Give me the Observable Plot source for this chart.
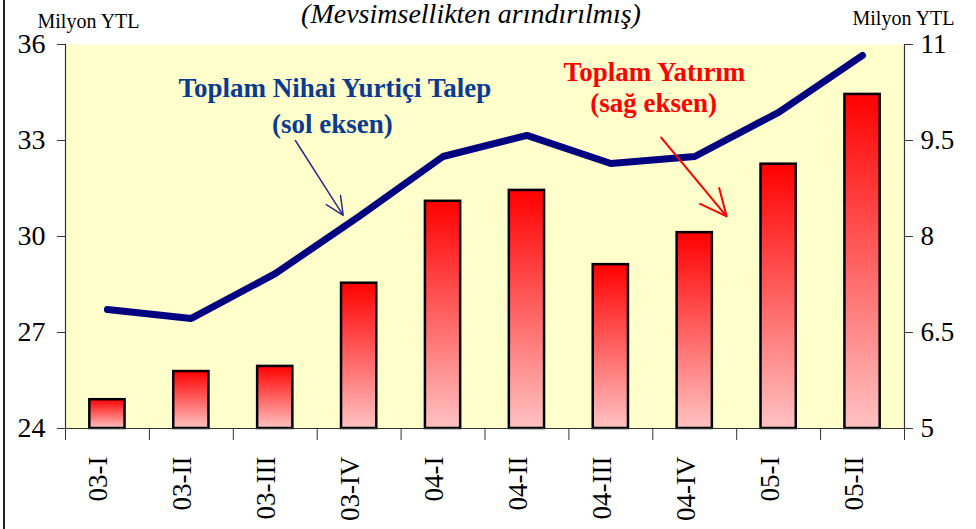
<!DOCTYPE html>
<html>
<head>
<meta charset="utf-8">
<script src="https://cdn.jsdelivr.net/npm/d3@7"></script>
<script src="https://cdn.jsdelivr.net/npm/@observablehq/plot@0.6"></script>
<style>
  html, body { margin: 0; padding: 0; background: white; overflow: hidden; }
  #wrap { position: relative; width: 976px; height: 529px; }
  #edge { position: absolute; left: 3px; top: 0; width: 2px; height: 529px; background: #222; }
  #chart svg { display: block; }
  #chart svg text { font-family: "Liberation Serif", "Times New Roman", serif; }
</style>
</head>
<body>
<div id="wrap"><div id="chart"></div><div id="edge"></div></div>
<script>
const categories = ["03-I","03-II","03-III","03-IV","04-I","04-II","04-III","04-IV","05-I","05-II"];
const demand = [27.72, 27.44, 28.84, 30.63, 32.5, 33.16, 32.28, 32.5, 33.88, 35.66];   // sol eksen
const investment = [5.45, 5.89, 5.97, 7.27, 8.55, 8.72, 7.56, 8.06, 9.13, 10.22];   // sağ eksen
const leftTicks = [24, 27, 30, 33, 36];
const rightTicks = [5, 6.5, 8, 9.5, 11];
const titleText = "(Mevsimsellikten arındırılmış)";
const unitText = "Milyon YTL";
const blueNotes = [
  {text: "Toplam Nihai Yurtiçi Talep", x: 3.21, y: 34.63},
  {text: "(sol eksen)", x: 3.18, y: 33.5}
];
const redNotes = [
  {text: "Toplam Yatırım", x: 7.02, y: 35.125},
  {text: "(sağ eksen)", x: 7.01, y: 34.16}
];
const blueArrow = [{x1: 2.74, y1: 33.0, x2: 3.31, y2: 30.66}];
const redArrow = [{x1: 7.10, y1: 33.09, x2: 7.88, y2: 30.63}];

// right axis (5..11) mapped onto left axis (24..36)
const toLeft = v => 24 + (v - 5) * 2;
const fromLeft = d => 5 + (d - 24) / 2;

const bars = investment.map((v, i) => ({i, v: toLeft(v)}));
const linePts = demand.map((v, i) => ({x: i + 0.5, y: v}));
const boundaries = d3.range(categories.length + 1);

const serif = "Liberation Serif";

const chart = Plot.plot({
  width: 976,
  height: 529,
  marginLeft: 65,
  marginRight: 72,
  marginTop: 44,
  marginBottom: 101,
  x: {domain: [0, categories.length], axis: null},
  y: {domain: [24, 36], axis: null},
  style: {fontFamily: serif, background: "white", color: "black", overflow: "visible"},
  marks: [
    Plot.frame({fill: "#ffffcc", stroke: "none"}),
    Plot.rect(bars, {x1: d => d.i + 0.29, x2: d => d.i + 0.71, y1: 24, y2: "v",
      fill: "url(#barGrad)", stroke: "black", strokeWidth: 2.5}),
    Plot.line(linePts, {x: "x", y: "y", stroke: "#000080", strokeWidth: 7,
      strokeLinecap: "round", strokeLinejoin: "round"}),
    Plot.ruleX([0, categories.length], {y1: 24, y2: 36, stroke: "#333", strokeWidth: 1.2}),
    Plot.ruleY([24], {stroke: "#333", strokeWidth: 1.2}),
    Plot.axisY(leftTicks, {anchor: "left", tickSize: 8, tickPadding: 12, fontSize: 28, label: null,
      stroke: "#333", fontFamily: serif}),
    Plot.axisY(rightTicks.map(toLeft), {anchor: "right", tickSize: 8, tickPadding: 8, fontSize: 27, label: null,
      stroke: "#333", fontFamily: serif, tickFormat: d => String(fromLeft(d))}),
    Plot.axisX(boundaries, {tickSize: 12, tickFormat: () => "", label: null, stroke: "#333"}),
    Plot.text(categories, {x: (d, i) => i + 0.5, frameAnchor: "bottom", dy: 28, rotate: -90,
      textAnchor: "end", fontSize: 27, fontFamily: serif}),
    Plot.text(blueNotes, {x: "x", y: "y", text: "text", fill: "#0a3a92", fontWeight: "bold", fontSize: 27, fontFamily: serif}),
    Plot.text(redNotes, {x: "x", y: "y", text: "text", fill: "#ff0000", fontWeight: "bold", fontSize: 27, fontFamily: serif}),
    Plot.arrow(blueArrow, {x1: "x1", y1: "y1", x2: "x2", y2: "y2", stroke: "#2b2b8c", strokeWidth: 1.5,
      headLength: 20, headAngle: 50}),
    Plot.arrow(redArrow, {x1: "x1", y1: "y1", x2: "x2", y2: "y2", stroke: "#ff0000", strokeWidth: 2,
      headLength: 22, headAngle: 50}),
    Plot.text([titleText], {frameAnchor: "top", dx: -14, dy: -41, fontStyle: "italic", fontSize: 28, fontFamily: serif}),
    Plot.text([unitText], {frameAnchor: "top-left", textAnchor: "middle", dx: 23, dy: -31, fontSize: 20, fontFamily: serif}),
    Plot.text([unitText], {frameAnchor: "top-right", textAnchor: "middle", dx: -1, dy: -34, fontSize: 20, fontFamily: serif})
  ]
});

d3.select(chart).insert("defs", ":first-child").html(
  '<linearGradient id="barGrad" x1="0" y1="0" x2="0" y2="1">' +
  '<stop offset="0" stop-color="#ff0000"/>' +
  '<stop offset="1" stop-color="#ffc2c2"/>' +
  '</linearGradient>');

document.getElementById("chart").appendChild(chart);
</script>
</body>
</html>
